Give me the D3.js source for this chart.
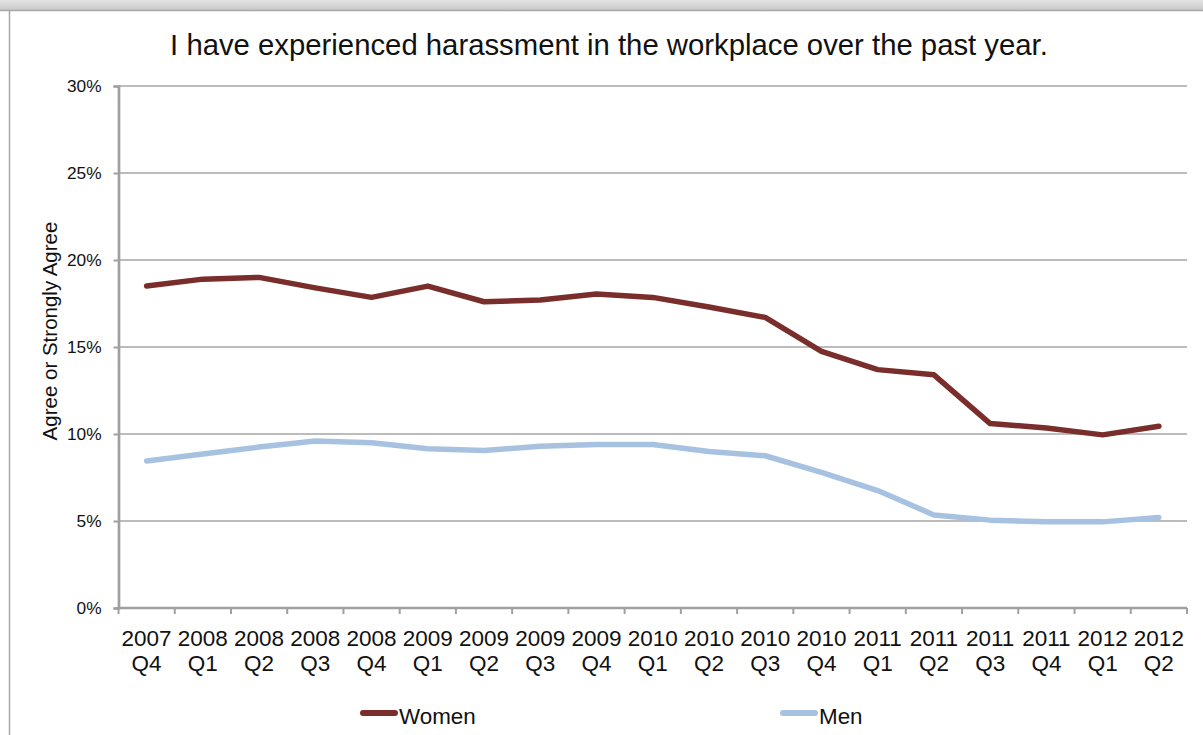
<!DOCTYPE html>
<html>
<head>
<meta charset="utf-8">
<script src="https://cdn.jsdelivr.net/npm/d3@7/dist/d3.min.js"></script>
<style>
  html, body { margin: 0; padding: 0; background: #fff; }
  svg { display: block; font-family: "Liberation Sans", Arial, sans-serif; }
</style>
</head>
<body>
<svg id="chart" width="1203" height="735"></svg>
<script>
// Quarter labels (year / quarter)
const years    = ["2007","2008","2008","2008","2008","2009","2009","2009","2009","2010","2010","2010","2010","2011","2011","2011","2011","2012","2012"];
const quarters = ["Q4","Q1","Q2","Q3","Q4","Q1","Q2","Q3","Q4","Q1","Q2","Q3","Q4","Q1","Q2","Q3","Q4","Q1","Q2"];

// Share answering "Agree" or "Strongly Agree" (%)
const women = [18.5, 18.9, 19.0, 18.4, 17.85, 18.5, 17.6, 17.7, 18.05, 17.85, 17.3, 16.7, 14.75, 13.7, 13.4, 10.6, 10.35, 9.95, 10.45];
const men   = [8.45, 8.85, 9.25, 9.6, 9.5, 9.15, 9.05, 9.3, 9.4, 9.4, 9.0, 8.75, 7.8, 6.75, 5.35, 5.05, 4.95, 4.95, 5.2];

const yTicks = [0, 5, 10, 15, 20, 25, 30];

const seriesList = [
  { name: "Women", values: women, color: "#7a2e2b" },
  { name: "Men",   values: men,   color: "#a7c2e1" }
];

const svg = d3.select("#chart");
const W = 1203, H = 735;

// Window-style frame: grey band on top, thin border
const defs = svg.append("defs");
const grad = defs.append("linearGradient").attr("id", "topband")
  .attr("x1", 0).attr("y1", 0).attr("x2", 0).attr("y2", 1);
grad.append("stop").attr("offset", "0%").attr("stop-color", "#e4e4e4");
grad.append("stop").attr("offset", "100%").attr("stop-color", "#c9c9c9");
svg.append("rect").attr("x", 0).attr("y", 0).attr("width", W).attr("height", 10).attr("fill", "url(#topband)");
svg.append("line").attr("x1", 0).attr("x2", W).attr("y1", 10.5).attr("y2", 10.5)
  .attr("stroke", "#a8a8a8").attr("stroke-width", 1.5);
svg.append("line").attr("x1", 9.5).attr("x2", 9.5).attr("y1", 10).attr("y2", H)
  .attr("stroke", "#a8a8a8").attr("stroke-width", 1.5);

const plot = { left: 118.5, right: 1187, top: 86, bottom: 608 };

const x = d3.scaleBand()
  .domain(d3.range(years.length))
  .range([plot.left, plot.right])
  .paddingInner(0).paddingOuter(0);

const y = d3.scaleLinear().domain([0, 30]).range([plot.bottom, plot.top]);

// Title
svg.append("text")
  .attr("x", 609).attr("y", 55)
  .attr("text-anchor", "middle")
  .attr("font-size", 29.3)
  .attr("fill", "#111")
  .text("I have experienced harassment in the workplace over the past year.");

// Horizontal gridlines
svg.append("g")
  .selectAll("line")
  .data(yTicks.filter(d => d > 0))
  .join("line")
  .attr("x1", plot.left).attr("x2", plot.right)
  .attr("y1", d => y(d)).attr("y2", d => y(d))
  .attr("stroke", "#a6a6a6").attr("stroke-width", 1.5);

// Y axis
const yAxis = svg.append("g")
  .attr("transform", `translate(${plot.left},0)`)
  .call(d3.axisLeft(y).tickValues(yTicks).tickFormat(d => d + "%").tickSize(5).tickPadding(12));
yAxis.select(".domain").attr("stroke", "#a0a0a0").attr("stroke-width", 2.7);
yAxis.selectAll(".tick line").attr("stroke", "#a0a0a0").attr("stroke-width", 2);
yAxis.selectAll(".tick text")
  .attr("font-size", 17.3).attr("fill", "#111")
  .attr("font-family", "Liberation Sans, Arial, sans-serif");

// X axis: ticks on category boundaries
const xAxisG = svg.append("g");
xAxisG.append("line")
  .attr("x1", plot.left - 1).attr("x2", plot.right)
  .attr("y1", plot.bottom).attr("y2", plot.bottom)
  .attr("stroke", "#a0a0a0").attr("stroke-width", 2.7);
const boundaries = d3.range(years.length + 1).map(i => i < years.length ? x(i) : x(years.length - 1) + x.bandwidth());
xAxisG.selectAll("line.tick")
  .data(boundaries)
  .join("line").attr("class", "tick")
  .attr("x1", d => d).attr("x2", d => d)
  .attr("y1", plot.bottom).attr("y2", plot.bottom + 6)
  .attr("stroke", "#a0a0a0").attr("stroke-width", 2);

const labels = xAxisG.selectAll("text.cat")
  .data(years.map((yr, i) => ({ yr, q: quarters[i], i })))
  .join("text").attr("class", "cat")
  .attr("text-anchor", "middle")
  .attr("font-size", 22.5).attr("fill", "#111");
labels.append("tspan")
  .attr("x", d => x(d.i) + x.bandwidth() / 2).attr("y", 646)
  .text(d => d.yr);
labels.append("tspan")
  .attr("x", d => x(d.i) + x.bandwidth() / 2).attr("y", 671)
  .text(d => d.q);

// Y axis title
svg.append("text")
  .attr("transform", "translate(57,331) rotate(-90)")
  .attr("text-anchor", "middle")
  .attr("font-size", 20.5).attr("fill", "#111")
  .text("Agree or Strongly Agree");

// Lines
const line = d3.line()
  .x((d, i) => x(i) + x.bandwidth() / 2)
  .y(d => y(d));

svg.append("g")
  .selectAll("path")
  .data(seriesList)
  .join("path")
  .attr("d", s => line(s.values))
  .attr("fill", "none")
  .attr("stroke", s => s.color)
  .attr("stroke-width", 5.5)
  .attr("stroke-linejoin", "round")
  .attr("stroke-linecap", "round");

// Legend
const legendPos = [360, 780];
const legend = svg.append("g")
  .selectAll("g")
  .data(seriesList)
  .join("g")
  .attr("transform", (d, i) => `translate(${legendPos[i]},713)`);
legend.append("line")
  .attr("x1", 3).attr("x2", 35).attr("y1", 0).attr("y2", 0)
  .attr("stroke", d => d.color).attr("stroke-width", 6)
  .attr("stroke-linecap", "round");
legend.append("text")
  .attr("x", 39).attr("y", 10.5)
  .attr("font-size", 22.4).attr("fill", "#111")
  .text(d => d.name);
</script>
</body>
</html>
